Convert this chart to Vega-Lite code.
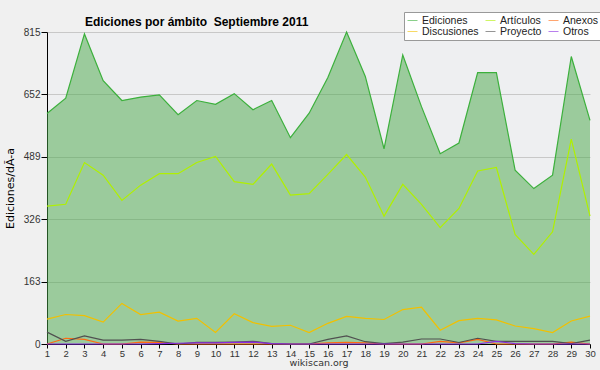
{
  "$schema": "https://vega.github.io/schema/vega-lite/v6.json",
  "width": 543,
  "height": 312,
  "autosize": {"type": "none"},
  "padding": {"left": 47, "top": 32, "right": 10, "bottom": 26},
  "background": "#f0f0f0",
  "config": {
    "view": {"fill": "#eeeff1", "stroke": null},
    "font": "DejaVu Sans",
    "axisX": {"labelOverlap": false}
  },
  "title": {
    "text": "Ediciones por ámbito \u00a0Septiembre 2011",
    "anchor": "start",
    "frame": "group",
    "dx": 38,
    "offset": 0,
    "dy": 17,
    "fontSize": 12,
    "fontWeight": "bold",
    "color": "#000",
    "font": "Liberation Sans"
  },
  "data": {
    "values": [
      {"dia": 1, "Ediciones": 602, "Artículos": 360, "Anexos": 0, "Discusiones": 65, "Proyecto": 31, "Otros": 0},
      {"dia": 2, "Ediciones": 642, "Artículos": 365, "Anexos": 15, "Discusiones": 77, "Proyecto": 7, "Otros": 0},
      {"dia": 3, "Ediciones": 810, "Artículos": 474, "Anexos": 12, "Discusiones": 74, "Proyecto": 21, "Otros": 0},
      {"dia": 4, "Ediciones": 688, "Artículos": 441, "Anexos": 0, "Discusiones": 57, "Proyecto": 10, "Otros": 0},
      {"dia": 5, "Ediciones": 636, "Artículos": 375, "Anexos": 0, "Discusiones": 106, "Proyecto": 10, "Otros": 0},
      {"dia": 6, "Ediciones": 645, "Artículos": 415, "Anexos": 5, "Discusiones": 77, "Proyecto": 12, "Otros": 0},
      {"dia": 7, "Ediciones": 651, "Artículos": 445, "Anexos": 4, "Discusiones": 83, "Proyecto": 7, "Otros": 1},
      {"dia": 8, "Ediciones": 599, "Artículos": 445, "Anexos": 0, "Discusiones": 60, "Proyecto": 0, "Otros": 2},
      {"dia": 9, "Ediciones": 636, "Artículos": 474, "Anexos": 0, "Discusiones": 67, "Proyecto": 4, "Otros": 3},
      {"dia": 10, "Ediciones": 626, "Artículos": 490, "Anexos": 0, "Discusiones": 30, "Proyecto": 4, "Otros": 3},
      {"dia": 11, "Ediciones": 654, "Artículos": 424, "Anexos": 0, "Discusiones": 79, "Proyecto": 5, "Otros": 4},
      {"dia": 12, "Ediciones": 612, "Artículos": 417, "Anexos": 0, "Discusiones": 56, "Proyecto": 7, "Otros": 5},
      {"dia": 13, "Ediciones": 636, "Artículos": 470, "Anexos": 0, "Discusiones": 46, "Proyecto": 1, "Otros": 1},
      {"dia": 14, "Ediciones": 539, "Artículos": 389, "Anexos": 0, "Discusiones": 49, "Proyecto": 0, "Otros": 0},
      {"dia": 15, "Ediciones": 603, "Artículos": 393, "Anexos": 0, "Discusiones": 30, "Proyecto": 0, "Otros": 0},
      {"dia": 16, "Ediciones": 696, "Artículos": 443, "Anexos": 3, "Discusiones": 54, "Proyecto": 12, "Otros": 0},
      {"dia": 17, "Ediciones": 815, "Artículos": 495, "Anexos": 4, "Discusiones": 72, "Proyecto": 21, "Otros": 0},
      {"dia": 18, "Ediciones": 699, "Artículos": 436, "Anexos": 3, "Discusiones": 67, "Proyecto": 6, "Otros": 0},
      {"dia": 19, "Ediciones": 510, "Artículos": 334, "Anexos": 0, "Discusiones": 64, "Proyecto": 1, "Otros": 0},
      {"dia": 20, "Ediciones": 755, "Artículos": 417, "Anexos": 0, "Discusiones": 90, "Proyecto": 5, "Otros": 0},
      {"dia": 21, "Ediciones": 620, "Artículos": 365, "Anexos": 0, "Discusiones": 96, "Proyecto": 13, "Otros": 0},
      {"dia": 22, "Ediciones": 497, "Artículos": 304, "Anexos": 7, "Discusiones": 36, "Proyecto": 13, "Otros": 0},
      {"dia": 23, "Ediciones": 525, "Artículos": 354, "Anexos": 3, "Discusiones": 61, "Proyecto": 4, "Otros": 0},
      {"dia": 24, "Ediciones": 709, "Artículos": 452, "Anexos": 12, "Discusiones": 67, "Proyecto": 15, "Otros": 0},
      {"dia": 25, "Ediciones": 709, "Artículos": 461, "Anexos": 0, "Discusiones": 63, "Proyecto": 7, "Otros": 7},
      {"dia": 26, "Ediciones": 454, "Artículos": 286, "Anexos": 0, "Discusiones": 47, "Proyecto": 7, "Otros": 1},
      {"dia": 27, "Ediciones": 406, "Artículos": 234, "Anexos": 0, "Discusiones": 40, "Proyecto": 7, "Otros": 0},
      {"dia": 28, "Ediciones": 441, "Artículos": 293, "Anexos": 0, "Discusiones": 30, "Proyecto": 7, "Otros": 0},
      {"dia": 29, "Ediciones": 751, "Artículos": 535, "Anexos": 5, "Discusiones": 60, "Proyecto": 1, "Otros": 0},
      {"dia": 30, "Ediciones": 584, "Artículos": 334, "Anexos": 0, "Discusiones": 73, "Proyecto": 10, "Otros": 0}
    ]
  },
  "encoding": {
    "x": {
      "field": "dia", "type": "quantitative",
      "scale": {"domain": [1, 30], "nice": false, "zero": false},
      "axis": {
        "values": [1,2,3,4,5,6,7,8,9,10,11,12,13,14,15,16,17,18,19,20,21,22,23,24,25,26,27,28,29,30],
        "labelOverlap": false,
        "labelBound": false,
        "labelFlush": false,
        "grid": false,
        "title": "wikiscan.org",
        "titleFont": "DejaVu Sans",
        "titleFontSize": 9.5,
        "titleFontWeight": "normal",
        "titleColor": "#333",
        "titlePadding": 0,
        "labelFont": "Liberation Sans",
        "labelFontSize": 9.5,
        "labelColor": "#333",
        "labelPadding": 0,
        "tickColor": "#000",
        "domainColor": "#000",
        "tickSize": 4
      }
    }
  },
  "layer": [
    {
      "mark": {"type": "area", "color": "#48a848", "opacity": 0.5},
      "encoding": {
        "y": {
          "field": "Ediciones", "type": "quantitative",
          "scale": {"domain": [0, 815], "nice": false},
          "axis": {
            "values": [0, 40.75, 81.5, 122.25, 163, 203.75, 244.5, 285.25, 326, 366.75, 407.5, 448.25, 489, 529.75, 570.5, 611.25, 652, 692.75, 733.5, 774.25, 815],
            "labelExpr": "datum.value % 163 === 0 ? datum.label : ''",
            "format": "d",
            "gridColor": "#c8c8c8",
            "gridOpacity": {"condition": {"test": "datum.value % 163 === 0 && datum.value > 0", "value": 1}, "value": 0},
            "tickSize": {"condition": {"test": "datum.value % 163 === 0", "value": 6}, "value": 4},
            "tickColor": "#000",
            "domainColor": "#000",
            "labelFont": "Liberation Sans",
            "labelFontSize": 10,
            "labelColor": "#333",
            "labelPadding": 1,
            "title": "Ediciones/dÃ-a",
            "titleFont": "DejaVu Sans",
            "titleFontSize": 11,
            "titleFontWeight": "normal",
            "titleColor": "#000",
            "titlePadding": 8
          }
        }
      }
    },
    {
      "transform": [
        {"fold": ["Ediciones", "Artículos", "Anexos", "Discusiones", "Proyecto", "Otros"], "as": ["serie", "valor"]}
      ],
      "mark": {"type": "line", "strokeWidth": 1.2},
      "encoding": {
        "y": {"field": "valor", "type": "quantitative"},
        "color": {
          "field": "serie", "type": "nominal",
          "scale": {
            "domain": ["Ediciones", "Artículos", "Anexos", "Discusiones", "Proyecto", "Otros"],
            "range": ["#3cb03c", "#b0f000", "#ff6a10", "#f2c000", "#505050", "#8a2be2"]
          },
          "legend": {
            "orient": "none",
            "legendX": 357,
            "legendY": -20,
            "direction": "horizontal",
            "columns": 3,
            "title": null,
            "symbolType": "stroke",
            "symbolSize": 100,
            "symbolStrokeWidth": 1,
            "symbolOpacity": 0.6,
            "labelFontSize": 10.5,
            "labelFont": "Liberation Sans",
            "labelColor": "#222",
            "labelOffset": 4,
            "rowPadding": 0,
            "columnPadding": 4,
            "padding": 3,
            "strokeColor": "#999",
            "fillColor": "#ffffff"
          }
        },
        "order": {"field": "serie"}
      }
    },
    {
      "data": {"values": [{"nota": "CC BY-SA 3.0"}]},
      "mark": {"type": "text", "align": "right", "baseline": "middle", "dy": 19, "fontSize": 7, "color": "#444"},
      "encoding": {
        "x": {"datum": 30, "type": "quantitative"},
        "y": {"datum": 0, "type": "quantitative"},
        "text": {"field": "nota"}
      }
    }
  ]
}
